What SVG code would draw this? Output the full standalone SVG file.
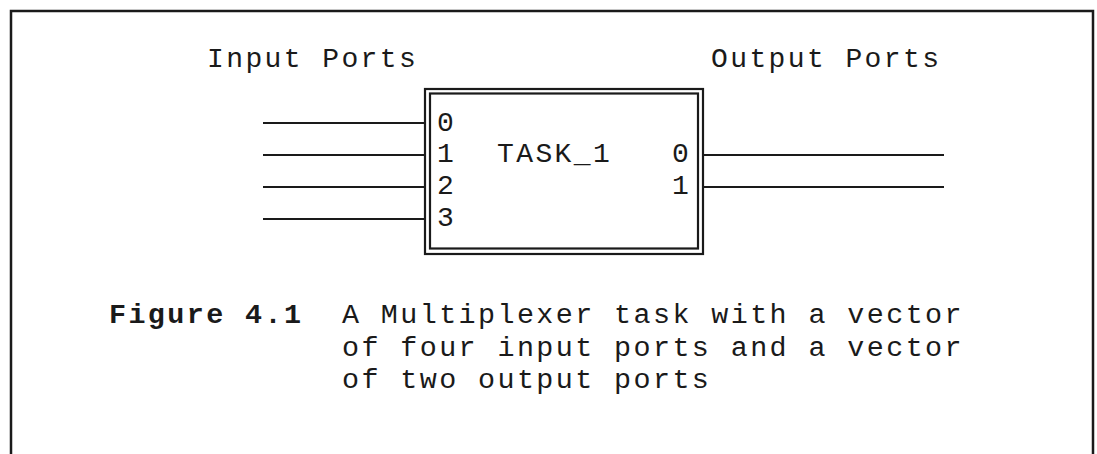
<svg xmlns="http://www.w3.org/2000/svg" width="1097" height="454" viewBox="0 0 1097 454">
<style>
  .t { font-family: "Liberation Mono", "Courier New", monospace; font-size: 28px; letter-spacing: 2.4px; fill: #1a1a1a; }
  .c { font-size: 28.4px; letter-spacing: 2.4px; }
  .b { font-weight: bold; }
  .ln { stroke: #1a1a1a; stroke-width: 2.2; fill: none; }
  .frame { stroke: #1a1a1a; stroke-width: 2.5; fill: none; }
</style>
<rect width="1097" height="454" fill="#ffffff"/>
<path class="frame" d="M11,454 V11 H1093 V454"/>
<g id="title-input"><text class="t" x="207" y="67">Input Ports</text></g>
<g id="title-output"><text class="t" x="711" y="67">Output Ports</text></g>
<g id="task1">
  <rect class="ln" x="425" y="89" width="278" height="165"/>
  <rect class="ln" x="430" y="93.5" width="268" height="155"/>
  <text class="t" x="437" y="131">0</text>
  <text class="t" x="437" y="162">1</text>
  <text class="t" x="437" y="194">2</text>
  <text class="t" x="437" y="226">3</text>
  <text class="t" x="497" y="162">TASK_1</text>
  <text class="t" x="672" y="162">0</text>
  <text class="t" x="672" y="194">1</text>
</g>
<g id="connectors">
  <line class="ln" x1="263" y1="123" x2="425" y2="123"/>
  <line class="ln" x1="263" y1="155" x2="425" y2="155"/>
  <line class="ln" x1="263" y1="187" x2="425" y2="187"/>
  <line class="ln" x1="263" y1="219" x2="425" y2="219"/>
  <line class="ln" x1="703" y1="155" x2="944" y2="155"/>
  <line class="ln" x1="703" y1="187" x2="944" y2="187"/>
</g>
<g id="caption">
  <text class="t c b" x="109" y="323">Figure 4.1</text>
  <text class="t c" x="342" y="323">A Multiplexer task with a vector</text>
  <text class="t c" x="342" y="356">of four input ports and a vector</text>
  <text class="t c" x="342" y="388">of two output ports</text>
</g>
</svg>
